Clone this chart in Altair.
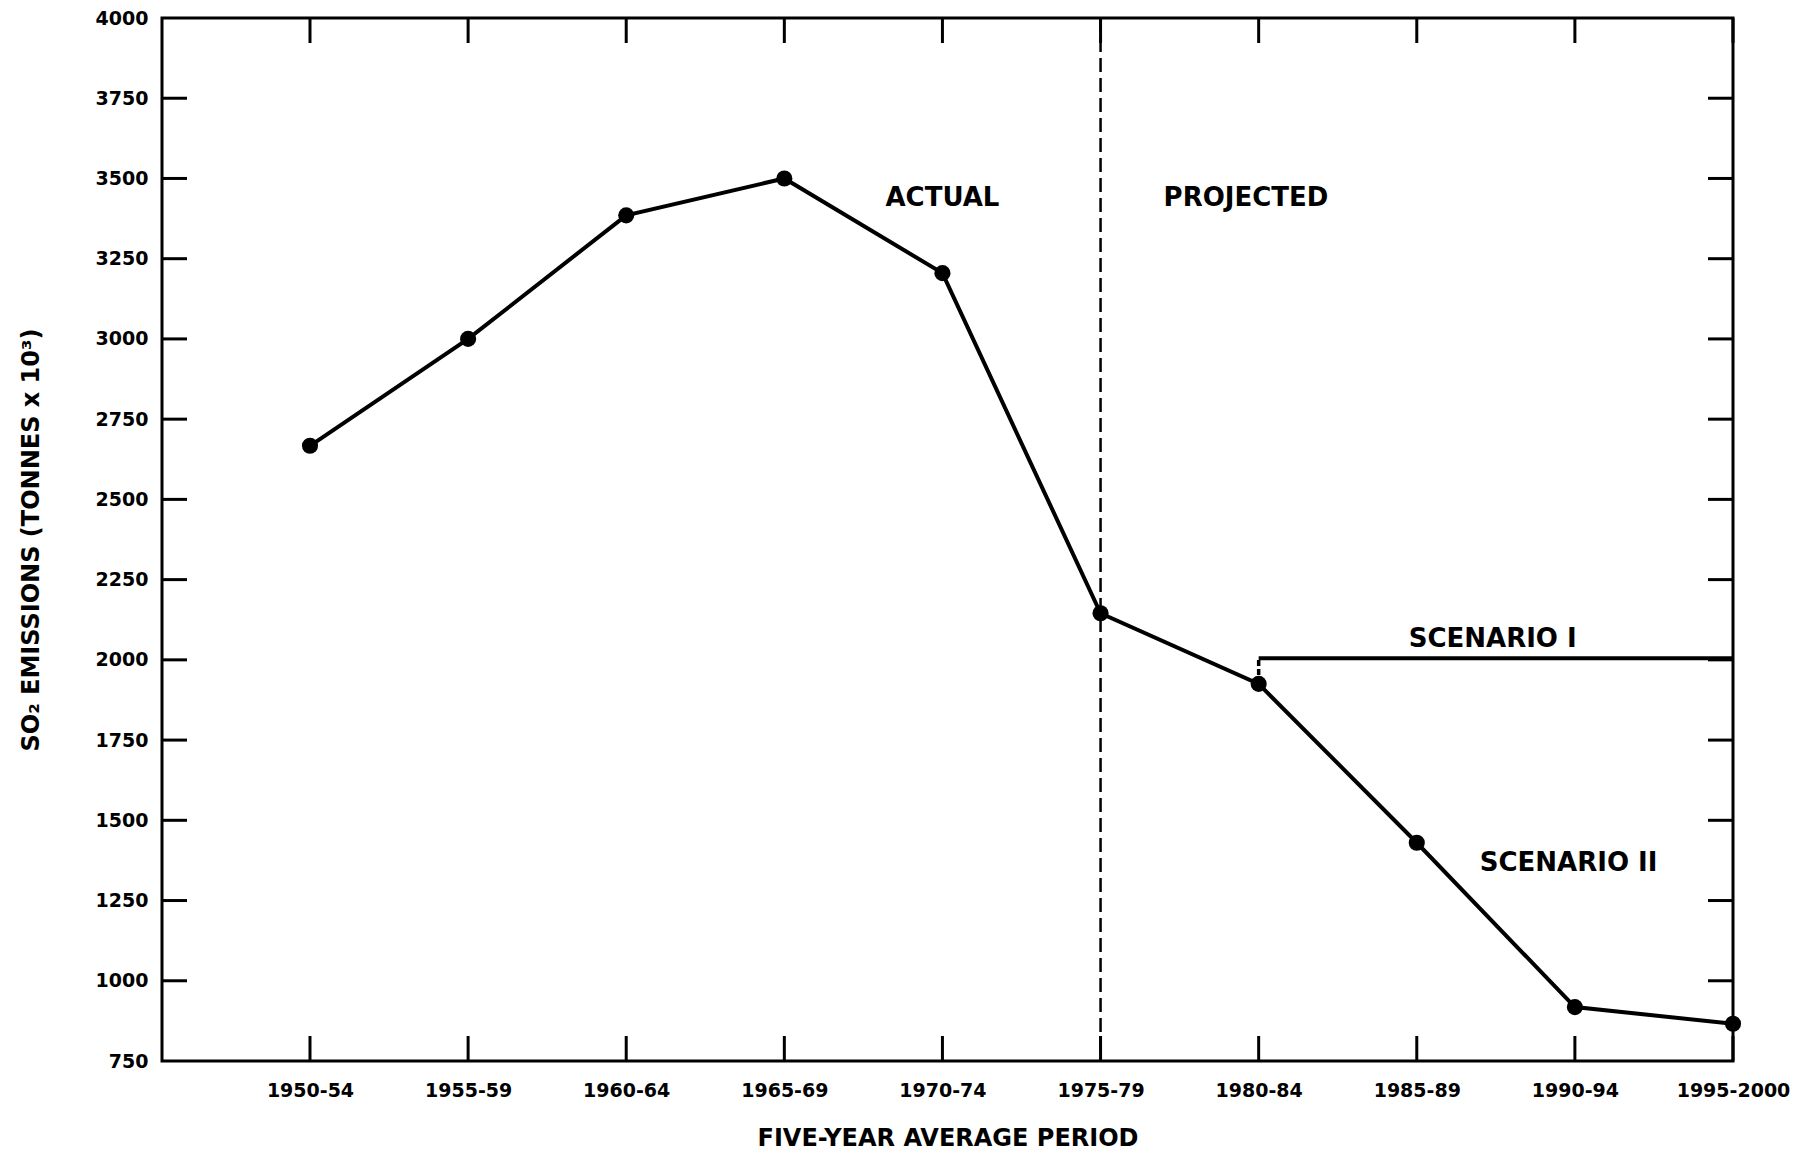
import json
import altair as alt
import pandas as pd

# ---- data ----
periods = ["1950-54", "1955-59", "1960-64", "1965-69", "1970-74",
           "1975-79", "1980-84", "1985-89", "1990-94", "1995-2000"]
emissions = [2667, 3000, 3385, 3500, 3205, 2145, 1925, 1430, 918, 866]

scenario1_periods = ["1980-84", "1995-2000"]
scenario1_values = [2005, 2005]

divider_period = "1975-79"

y_tick_values = [750, 1000, 1250, 1500, 1750, 2000, 2250, 2500, 2750,
                 3000, 3250, 3500, 3750, 4000]
inner_y_ticks = [1000, 1250, 1500, 1750, 2000, 2250, 2500, 2750,
                 3000, 3250, 3500, 3750]

label_text = ["ACTUAL", "PROJECTED", "SCENARIO I", "SCENARIO II"]
label_pos = [4.0, 5.92, 7.48, 7.96]
label_val = [3440, 3440, 2065, 1367]

# ---- layout ----
W, H = 1571, 1043
FONT = "DejaVu Sans"
TICK = 25

idx = {p: i for i, p in enumerate(periods)}
main_df = pd.DataFrame({"i": list(range(len(periods))), "period": periods, "v": emissions})
s1_df = pd.DataFrame({"i": [idx[p] for p in scenario1_periods], "v": scenario1_values})
conn_df = pd.DataFrame({"i": [idx[scenario1_periods[0]]],
                        "v": [emissions[idx[scenario1_periods[0]]]],
                        "v2": [scenario1_values[0]]})
div_df = pd.DataFrame({"i": [idx[divider_period]]})
xt_df = pd.DataFrame({"i": list(range(len(periods)))})
yt_df = pd.DataFrame({"v": inner_y_ticks})
lab_df = pd.DataFrame({"t": label_text, "i": label_pos, "v": label_val})

xs = alt.Scale(domain=[-0.936, 9], nice=False, zero=False)
ys = alt.Scale(domain=[750, 4000], nice=False, zero=False)

label_expr = json.dumps(periods) + "[datum.value]"

x_axis = alt.Axis(values=list(range(len(periods))), labelExpr=label_expr,
                  ticks=False, domain=False, grid=False, labelFlush=False,
                  labelFont=FONT, labelFontWeight="bold", labelFontSize=19,
                  labelColor="black", labelPadding=20, labelOverlap=False,
                  title="FIVE-YEAR AVERAGE PERIOD", titleFont=FONT,
                  titleFontWeight="bold", titleFontSize=24, titleColor="black",
                  titlePadding=26)
y_axis = alt.Axis(values=y_tick_values, format="d", ticks=False, domain=False, grid=False,
                  labelFlush=False,
                  labelFont=FONT, labelFontWeight="bold", labelFontSize=19,
                  labelColor="black", labelPadding=14,
                  title="SO₂ EMISSIONS (TONNES x 10³)", titleFont=FONT,
                  titleFontWeight="bold", titleFontSize=24, titleColor="black",
                  titlePadding=52)

base = alt.Chart(main_df)
line = base.mark_line(color="black", strokeWidth=4).encode(
    x=alt.X("i:Q", scale=xs, axis=x_axis),
    y=alt.Y("v:Q", scale=ys, axis=y_axis),
)
pts = base.mark_point(filled=True, color="black", size=260, opacity=1).encode(
    x=alt.X("i:Q", scale=xs), y=alt.Y("v:Q", scale=ys))

s1 = alt.Chart(s1_df).mark_line(color="black", strokeWidth=4).encode(
    x=alt.X("i:Q", scale=xs), y=alt.Y("v:Q", scale=ys))
conn = alt.Chart(conn_df).mark_rule(color="black", strokeWidth=3.5, strokeDash=[6, 3]).encode(
    x=alt.X("i:Q", scale=xs), y=alt.Y("v:Q", scale=ys), y2="v2:Q")

div = alt.Chart(div_df).mark_rule(color="black", strokeWidth=2.5, strokeDash=[14, 6]).encode(
    x=alt.X("i:Q", scale=xs), y=alt.value(0), y2=alt.value(H))

xt_bottom = alt.Chart(xt_df).mark_rule(color="black", strokeWidth=3).encode(
    x=alt.X("i:Q", scale=xs), y=alt.value(H), y2=alt.value(H - TICK))
xt_top = alt.Chart(xt_df).mark_rule(color="black", strokeWidth=3).encode(
    x=alt.X("i:Q", scale=xs), y=alt.value(0), y2=alt.value(TICK))
yt_left = alt.Chart(yt_df).mark_rule(color="black", strokeWidth=3).encode(
    y=alt.Y("v:Q", scale=ys), x=alt.value(0), x2=alt.value(TICK))
yt_right = alt.Chart(yt_df).mark_rule(color="black", strokeWidth=3).encode(
    y=alt.Y("v:Q", scale=ys), x=alt.value(W), x2=alt.value(W - TICK))

labels = alt.Chart(lab_df).mark_text(font=FONT, fontWeight="bold", fontSize=26,
                                     color="black", align="center", baseline="middle").encode(
    x=alt.X("i:Q", scale=xs), y=alt.Y("v:Q", scale=ys), text="t:N")

chart = alt.layer(div, xt_bottom, xt_top, yt_left, yt_right, conn, s1, line, pts, labels).properties(
    width=W, height=H,
    autosize=alt.AutoSizeParams(type="none"),
    padding={"left": 154, "top": 10, "right": 70, "bottom": 92},
).configure(background="white").configure_view(stroke="black", strokeWidth=3)

chart.save("out.html", embed_options={"renderer": "svg", "actions": False})
